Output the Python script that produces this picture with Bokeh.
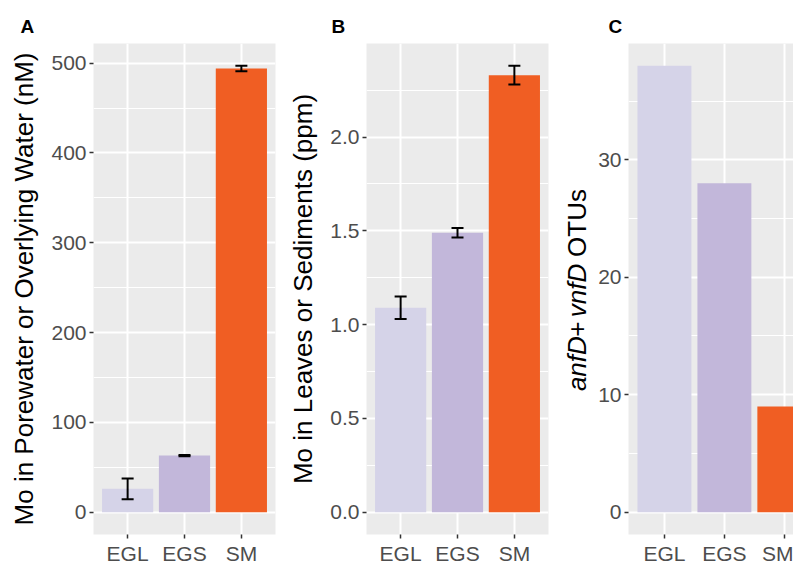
import math
from bokeh.plotting import figure
from bokeh.layouts import row
from bokeh.models import (Range1d, FixedTicker, ColumnDataSource, Whisker, TeeHead,
                          NumeralTickFormatter, Title)
from bokeh.core.properties import value
from bokeh.embed import file_html
from bokeh.resources import INLINE

# ---------------- data ----------------
categories = ["EGL", "EGS", "SM"]
x_pos = [1, 2, 3]
bar_colors = ["#D5D3E8", "#C2B7DA", "#F05E23"]

mo_water = [26, 63, 494]
mo_water_err = [11.5, 0.6, 3]

mo_solid = [1.09, 1.49, 2.33]
mo_solid_err = [0.06, 0.025, 0.05]

otus = [38, 28, 9]

water_ticks = [0, 100, 200, 300, 400, 500]
water_minor = [50, 150, 250, 350, 450]
solid_ticks = [0.0, 0.5, 1.0, 1.5, 2.0]
solid_minor = [0.25, 0.75, 1.25, 1.75, 2.25]
otu_ticks = [0, 10, 20, 30]
otu_minor = [5, 15, 25, 35]

title_A = "Mo in Porewater or Overlying Water (nM)"
title_B = "Mo in Leaves or Sediments (ppm)"
# panel C title: (text, style, advance width in em as rendered)
title_C = [("anfD", "italic", 2.42), ("+", "normal", 0.584), (" ", "normal", 0.278),
           ("vnfD", "italic", 2.40), (" ", "normal", 0.278), ("OTUs", "normal", 2.611)]

FONT = "Liberation Sans"
TITLE_PX = 26
H = 567
TOP = 43
BOTTOM = 30


def make_panel(width, left, right, vals, errs, yticks, yminor, letter, letter_off, x_end=3.6):
    top_val = max(v + e for v, e in zip(vals, errs)) if errs else max(vals)
    p = figure(width=width, height=H, output_backend="svg", toolbar_location=None,
               x_range=Range1d(0.4, x_end), y_range=Range1d(-0.05 * top_val, 1.05 * top_val),
               min_border_left=left, min_border_right=right, min_border_top=TOP,
               min_border_bottom=BOTTOM)
    p.title = Title(text=letter, align="left", offset=letter_off, text_font=FONT,
                    text_font_size="19px", text_font_style="bold", text_color="black",
                    vertical_align="top", standoff=10)
    p.background_fill_color = "#EBEBEB"
    p.border_fill_color = "white"
    p.outline_line_color = None

    xt = FixedTicker(ticks=x_pos)
    yt = FixedTicker(ticks=yticks, minor_ticks=yminor)
    p.xaxis.ticker = xt
    p.xgrid.ticker = xt
    p.yaxis.ticker = yt
    p.ygrid.ticker = yt
    p.xaxis.major_label_overrides = {float(x): c for x, c in zip(x_pos, categories)}

    for g in (p.xgrid, p.ygrid):
        g.grid_line_color = "white"
        g.grid_line_width = 2
    p.ygrid.minor_grid_line_color = "white"
    p.ygrid.minor_grid_line_width = 1

    for ax in (p.xaxis, p.yaxis):
        ax.axis_line_color = None
        ax.major_tick_in = 0
        ax.major_tick_out = 4
        ax.major_tick_line_color = "#333333"
        ax.major_tick_line_width = 1.5
        ax.minor_tick_line_color = None
        ax.major_label_text_font = FONT
        ax.major_label_text_font_size = "21px"
        ax.major_label_text_color = "#4D4D4D"
        ax.major_label_standoff = 3
    p.yaxis.axis_label_text_font = FONT
    p.yaxis.axis_label_text_font_size = f"{TITLE_PX}px"
    p.yaxis.axis_label_text_font_style = "normal"
    p.yaxis.axis_label_text_color = "black"
    p.yaxis.axis_label_standoff = 9

    src = ColumnDataSource(dict(x=x_pos, top=vals, color=bar_colors))
    p.vbar(x="x", top="top", bottom=0, width=0.9, fill_color="color", line_color=None, source=src)

    if errs:
        esrc = ColumnDataSource(dict(x=x_pos,
                                     lo=[v - e for v, e in zip(vals, errs)],
                                     hi=[v + e for v, e in zip(vals, errs)]))
        w = Whisker(base="x", lower="lo", upper="hi", source=esrc, dimension="height",
                    line_color="black", line_width=2, level="overlay",
                    upper_head=TeeHead(size=12, line_width=2, line_color="black"),
                    lower_head=TeeHead(size=12, line_width=2, line_color="black"))
        p.add_layout(w)
    return p


pA = make_panel(285, 93, 10, mo_water, mo_water_err, water_ticks, water_minor, "A", -73)
pA.yaxis.axis_label = title_A
pB = make_panel(270, 75, 7, mo_solid, mo_solid_err, solid_ticks, solid_minor, "B", -35)
pB.yaxis.formatter = NumeralTickFormatter(format="0.0")
pB.yaxis.axis_label = title_B

TW = 40  # strip holding panel C's mixed-style axis title
pC = make_panel(238 - TW, 72 - TW, 0, otus, [], otu_ticks, otu_minor, "C", -20, x_end=3.153)

# strip figure for panel C title (its frame is the whole strip; units = pixels)
tC = figure(width=TW, height=H, output_backend="svg", toolbar_location=None,
            x_range=Range1d(0, TW), y_range=Range1d(0, H),
            min_border_left=0, min_border_right=0, min_border_top=0, min_border_bottom=0)
tC.axis.visible = False
tC.grid.visible = False
tC.outline_line_color = None
tC.background_fill_color = "white"
tC.border_fill_color = "white"

frame_mid = H - (TOP + (H - BOTTOM)) / 2
total = sum(w for _, _, w in title_C) * TITLE_PX
cur = frame_mid - total / 2
xs, ys, txts, styles = [], [], [], []
for txt, style, w in title_C:
    if txt.strip():
        xs.append(TW - 19)
        ys.append(cur)
        txts.append(txt)
        styles.append(style)
    cur += w * TITLE_PX
tsrc = ColumnDataSource(dict(x=xs, y=ys, text=txts, style=styles))
tC.text(x="x", y="y", text="text", source=tsrc, angle=math.pi / 2,
        text_font=value(FONT), text_font_size=value(f"{TITLE_PX}px"),
        text_font_style="style", text_align="left", text_baseline="middle",
        text_color="black")

layout = row(pA, pB, tC, pC)
open("out.html", "w").write(file_html(layout, INLINE))
